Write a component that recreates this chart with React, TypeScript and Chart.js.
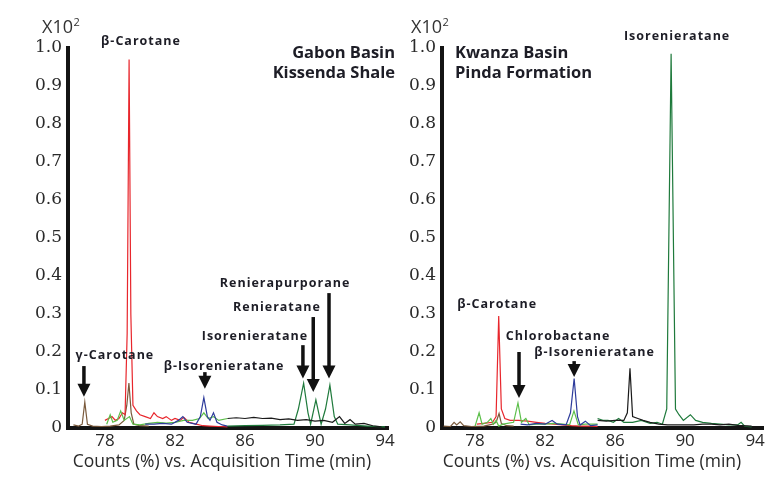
import React, { useEffect, useRef } from "react";
import { Chart, registerables } from "chart.js";
Chart.register(...registerables);

// ---------- data ----------
const xTickValues = [78, 82, 86, 90, 94];
const yTickValues = [0, 0.1, 0.2, 0.3, 0.4, 0.5, 0.6, 0.7, 0.8, 0.9, 1.0];
const xAxisTitle = "Counts (%) vs. Acquisition Time (min)";

// Gabon Basin, Kissenda Shale
const gabonBrown = [[76.2,0.008],[76.5,0.005],[76.7,0.01],[76.85,0.068],[77.0,0.01],[77.3,0.005],[77.8,0.004],[78.3,0.005],[78.8,0.008],[79.1,0.02],[79.25,0.06],[79.37,0.118],[79.5,0.04],[79.65,0.01],[80.0,0.006],[80.5,0.005]];
const gabonRed = [[78.0,0.02],[78.2,0.025],[78.4,0.03],[78.6,0.02],[78.8,0.025],[79.0,0.04],[79.15,0.035],[79.27,0.25],[79.38,0.97],[79.48,0.3],[79.6,0.06],[79.8,0.045],[80.0,0.035],[80.3,0.03],[80.6,0.025],[80.8,0.04],[81.0,0.03],[81.3,0.025],[81.5,0.03],[81.8,0.02],[82.0,0.025],[82.3,0.02],[82.5,0.028],[82.8,0.015],[83.2,0.01],[83.6,0.006],[84.0,0.005],[84.5,0.004],[85.0,0.003]];
const gabonLightGreen = [[78.1,0.01],[78.3,0.035],[78.45,0.015],[78.7,0.02],[78.9,0.045],[79.1,0.02],[79.4,0.03],[79.6,0.01],[80.0,0.008],[80.5,0.012],[81.0,0.015],[81.5,0.013],[82.0,0.015],[82.5,0.02],[83.0,0.02],[83.4,0.025],[83.65,0.04],[83.9,0.025],[84.2,0.03],[84.5,0.02],[85.0,0.025]];
const gabonBlue = [[80.3,0.01],[80.8,0.01],[81.3,0.012],[81.8,0.01],[82.2,0.02],[82.45,0.03],[82.7,0.015],[83.2,0.01],[83.45,0.03],[83.65,0.08],[83.85,0.03],[84.0,0.02],[84.2,0.04],[84.4,0.015],[84.7,0.008],[85.0,0.005]];
const gabonBlack = [[85.0,0.025],[85.5,0.027],[86.0,0.025],[86.5,0.028],[87.0,0.025],[87.5,0.026],[88.0,0.022],[88.5,0.024],[89.0,0.02],[89.5,0.022],[90.0,0.018],[90.5,0.02],[91.0,0.015],[91.4,0.03],[91.7,0.012],[92.0,0.022],[92.3,0.01],[92.8,0.012],[93.3,0.006],[93.8,0.003]];
const gabonDarkGreen = [[85.0,0.005],[86.0,0.006],[87.0,0.007],[88.0,0.008],[88.8,0.01],[89.05,0.05],[89.35,0.118],[89.6,0.04],[89.75,0.01],[90.05,0.074],[90.35,0.01],[90.6,0.05],[90.85,0.113],[91.1,0.03],[91.3,0.01],[92.0,0.008],[93.0,0.005],[94.0,0.003]];

// Kwanza Basin, Pinda Formation
const kwanzaBrown = [[76.2,0.005],[76.6,0.004],[76.8,0.015],[76.95,0.008],[77.15,0.016],[77.35,0.006],[77.8,0.004],[78.5,0.005],[79.0,0.01],[79.2,0.015],[79.37,0.038],[79.5,0.012],[79.8,0.006],[80.2,0.005]];
const kwanzaRed = [[78.1,0.01],[78.5,0.012],[79.0,0.015],[79.2,0.03],[79.35,0.295],[79.5,0.05],[79.7,0.025],[80.0,0.02],[80.5,0.02],[81.0,0.018],[81.5,0.015],[82.0,0.012],[82.5,0.01],[83.0,0.008],[83.5,0.006],[84.0,0.005],[84.5,0.005],[85.0,0.004]];
const kwanzaLightGreen = [[78.0,0.005],[78.23,0.04],[78.4,0.01],[78.7,0.015],[78.9,0.025],[79.05,0.01],[79.2,0.02],[79.35,0.005],[79.6,0.01],[80.2,0.015],[80.45,0.066],[80.65,0.015],[80.9,0.025],[81.1,0.008],[81.5,0.01],[82.0,0.01],[82.5,0.012],[83.0,0.01],[83.4,0.008],[83.65,0.045],[83.9,0.008],[84.3,0.01],[85.0,0.01]];
const kwanzaBlue = [[80.6,0.01],[81.0,0.008],[81.5,0.012],[82.0,0.01],[82.4,0.02],[82.7,0.01],[83.2,0.008],[83.45,0.04],[83.66,0.13],[83.85,0.03],[84.0,0.008],[84.3,0.018],[84.6,0.006],[85.0,0.008]];
const kwanzaBlack = [[85.0,0.02],[85.5,0.018],[86.0,0.02],[86.5,0.02],[86.7,0.04],[86.85,0.157],[87.0,0.03],[87.3,0.025],[87.6,0.02],[88.0,0.015],[88.5,0.01],[89.0,0.008],[89.5,0.008],[90.0,0.008],[90.5,0.008],[91.0,0.01],[91.5,0.01],[92.0,0.008],[92.5,0.01],[93.0,0.007],[93.8,0.005]];
const kwanzaDarkGreen = [[85.0,0.025],[85.3,0.02],[85.6,0.02],[85.9,0.015],[86.2,0.025],[86.5,0.015],[87.0,0.015],[87.5,0.02],[88.0,0.012],[88.4,0.015],[88.7,0.01],[88.95,0.05],[89.2,0.985],[89.45,0.05],[89.65,0.035],[89.9,0.02],[90.3,0.035],[90.6,0.02],[91.0,0.015],[91.5,0.012],[92.0,0.01],[92.5,0.008],[93.0,0.008],[93.2,0.015],[93.4,0.005],[93.8,0.003]];

// annotation labels [time, value, text] and arrows [time, top value, tip value]
const gabonLabels = [[80.06,1.016,"β-Carotane"],[78.57,0.192,"γ-Carotane"],[84.8,0.163,"β-Isorenieratane"],[86.57,0.24,"Isorenieratane"],[87.83,0.318,"Renieratane"],[88.29,0.38,"Renierapurporane"]];
const gabonArrows = [[76.8,0.163,0.082],[83.71,0.147,0.103],[89.31,0.218,0.13],[89.9,0.292,0.095],[90.8,0.355,0.13]];
const kwanzaLabels = [[89.54,1.03,"Isorenieratane"],[79.26,0.324,"β-Carotane"],[82.74,0.24,"Chlorobactane"],[84.83,0.198,"β-Isorenieratane"]];
const kwanzaArrows = [[80.51,0.2,0.079],[83.66,0.176,0.134]];

const gabonTitle = ["Gabon Basin", "Kissenda Shale"];
const kwanzaTitle = ["Kwanza Basin", "Pinda Formation"];

const COLORS = {
  brown: "#7a5a3c",
  red: "#e8262c",
  lightGreen: "#5cbf4a",
  blue: "#2e3c9c",
  black: "#1a1a1a",
  darkGreen: "#1f7a3c",
};

const SANS = "'Open Sans', 'DejaVu Sans', sans-serif";
const SERIF = "'DejaVu Serif', serif";
const TEXT = "#1d1d26";

type PanelProps = {
  width: number;
  yAxisWidth: number;
  padRight: number;
  xMin: number;
  xMax: number;
  traces: { pts: number[][]; color: string }[];
  labels: any[][];
  arrows: number[][];
  title: string[];
  titleAlign: "left" | "right";
  titleX: number;
  x10X: number;
  axisTitleX: number;
};

function Panel(p: PanelProps) {
  const ref = useRef<HTMLCanvasElement>(null);
  useEffect(() => {
    const canvas = ref.current!;
    const annot = {
      id: "annot",
      afterDraw(chart: any) {
        const ctx = chart.ctx;
        const xs = chart.scales.x;
        const ys = chart.scales.y;
        ctx.save();
        // X10^2
        ctx.fillStyle = "#333";
        ctx.textBaseline = "alphabetic";
        ctx.textAlign = "left";
        ctx.font = `18px ${SANS}`;
        ctx.fillText("X10", p.x10X, 33);
        const w = ctx.measureText("X10").width;
        ctx.font = `11px ${SANS}`;
        ctx.fillText("2", p.x10X + w + 0.5, 26);
        // axis title
        ctx.fillStyle = "#2a2a2a";
        ctx.font = `17.5px ${SANS}`;
        ctx.textAlign = "center";
        ctx.textBaseline = "middle";
        ctx.fillText(xAxisTitle, p.axisTitleX, 462);
        // titles
        ctx.textBaseline = "alphabetic";
        ctx.fillStyle = TEXT;
        ctx.font = `bold 16.5px ${SANS}`;
        ctx.textAlign = p.titleAlign;
        ctx.fillText(p.title[0], p.titleX, 58);
        ctx.fillText(p.title[1], p.titleX, 78);
        // labels
        ctx.font = `bold 12.5px ${SANS}`;
        (ctx as any).letterSpacing = "1px";
        ctx.textAlign = "center";
        ctx.textBaseline = "middle";
        for (const [t, v, s] of p.labels) {
          ctx.fillText(s, xs.getPixelForValue(t), ys.getPixelForValue(v));
        }
        (ctx as any).letterSpacing = "0px";
        // arrows
        ctx.strokeStyle = "#111";
        ctx.fillStyle = "#111";
        for (const [t, top, tip] of p.arrows) {
          const x = xs.getPixelForValue(t);
          const y0 = ys.getPixelForValue(top);
          const y1 = ys.getPixelForValue(tip);
          const head = 13;
          ctx.lineWidth = 3.5;
          ctx.beginPath();
          ctx.moveTo(x, y0);
          ctx.lineTo(x, y1 - head + 2);
          ctx.stroke();
          ctx.beginPath();
          ctx.moveTo(x - 6.5, y1 - head);
          ctx.lineTo(x + 6.5, y1 - head);
          ctx.lineTo(x, y1);
          ctx.closePath();
          ctx.fill();
        }
        ctx.restore();
      },
    };
    const chart = new Chart(canvas, {
      type: "line",
      data: {
        datasets: p.traces.map((tr) => ({
          data: tr.pts.map(([x, y]) => ({ x, y })),
          borderColor: tr.color,
          borderWidth: 1.2,
          pointRadius: 0,
          tension: 0,
          fill: false,
        })),
      },
      options: {
        animation: false,
        responsive: false,
        events: [],
        layout: { padding: { left: 0, right: p.padRight, top: 48, bottom: 0 } },
        plugins: { legend: { display: false }, tooltip: { enabled: false } },
        scales: {
          x: {
            type: "linear",
            min: p.xMin,
            max: p.xMax,
            afterBuildTicks: (s: any) => {
              s.ticks = xTickValues.map((v) => ({ value: v }));
            },
            afterFit: (s: any) => {
              s.height = 52;
            },
            grid: { display: false, drawTicks: false },
            border: { display: true, color: "#141414", width: 4 },
            ticks: {
              font: { family: SANS, size: 17 },
              color: "#2a2a2a",
              padding: 3,
              maxRotation: 0,
              autoSkip: false,
              callback: (v: any) => String(v),
            },
          },
          y: {
            min: 0,
            max: 1,
            afterBuildTicks: (s: any) => {
              s.ticks = yTickValues.map((v) => ({ value: v }));
            },
            afterFit: (s: any) => {
              s.width = p.yAxisWidth;
            },
            grid: { display: false, drawTicks: false },
            border: { display: true, color: "#141414", width: 4 },
            ticks: {
              font: { family: SERIF, size: 17 },
              color: "#2a2a2a",
              padding: 6,
              autoSkip: false,
              callback: (v: any) => (Number(v) === 0 ? "0" : Number(v).toFixed(1)),
            },
          },
        },
      },
      plugins: [annot],
    } as any);
    return () => chart.destroy();
  }, []);
  return <canvas ref={ref} width={p.width} height={480} />;
}

export default function App() {
  return (
    <div style={{ position: "absolute", left: 0, top: 0, width: 780, height: 480, background: "#fff" }}>
      <div style={{ position: "absolute", left: 0, top: 0 }}>
        <Panel
          width={400}
          yAxisWidth={68}
          padRight={12}
          xMin={75.89}
          xMax={94.17}
          traces={[
            { pts: gabonBlack, color: COLORS.black },
            { pts: gabonDarkGreen, color: COLORS.darkGreen },
            { pts: gabonBlue, color: COLORS.blue },
            { pts: gabonLightGreen, color: COLORS.lightGreen },
            { pts: gabonRed, color: COLORS.red },
            { pts: gabonBrown, color: COLORS.brown },
          ]}
          labels={gabonLabels}
          arrows={gabonArrows}
          title={gabonTitle}
          titleAlign="right"
          titleX={395}
          x10X={42}
          axisTitleX={222}
        />
      </div>
      <div style={{ position: "absolute", left: 400, top: 0 }}>
        <Panel
          width={380}
          yAxisWidth={42}
          padRight={17}
          xMin={76.11}
          xMax={94.45}
          traces={[
            { pts: kwanzaBlack, color: COLORS.black },
            { pts: kwanzaDarkGreen, color: COLORS.darkGreen },
            { pts: kwanzaBlue, color: COLORS.blue },
            { pts: kwanzaLightGreen, color: COLORS.lightGreen },
            { pts: kwanzaRed, color: COLORS.red },
            { pts: kwanzaBrown, color: COLORS.brown },
          ]}
          labels={kwanzaLabels}
          arrows={kwanzaArrows}
          title={kwanzaTitle}
          titleAlign="left"
          titleX={55}
          x10X={11}
          axisTitleX={192}
        />
      </div>
    </div>
  );
}
